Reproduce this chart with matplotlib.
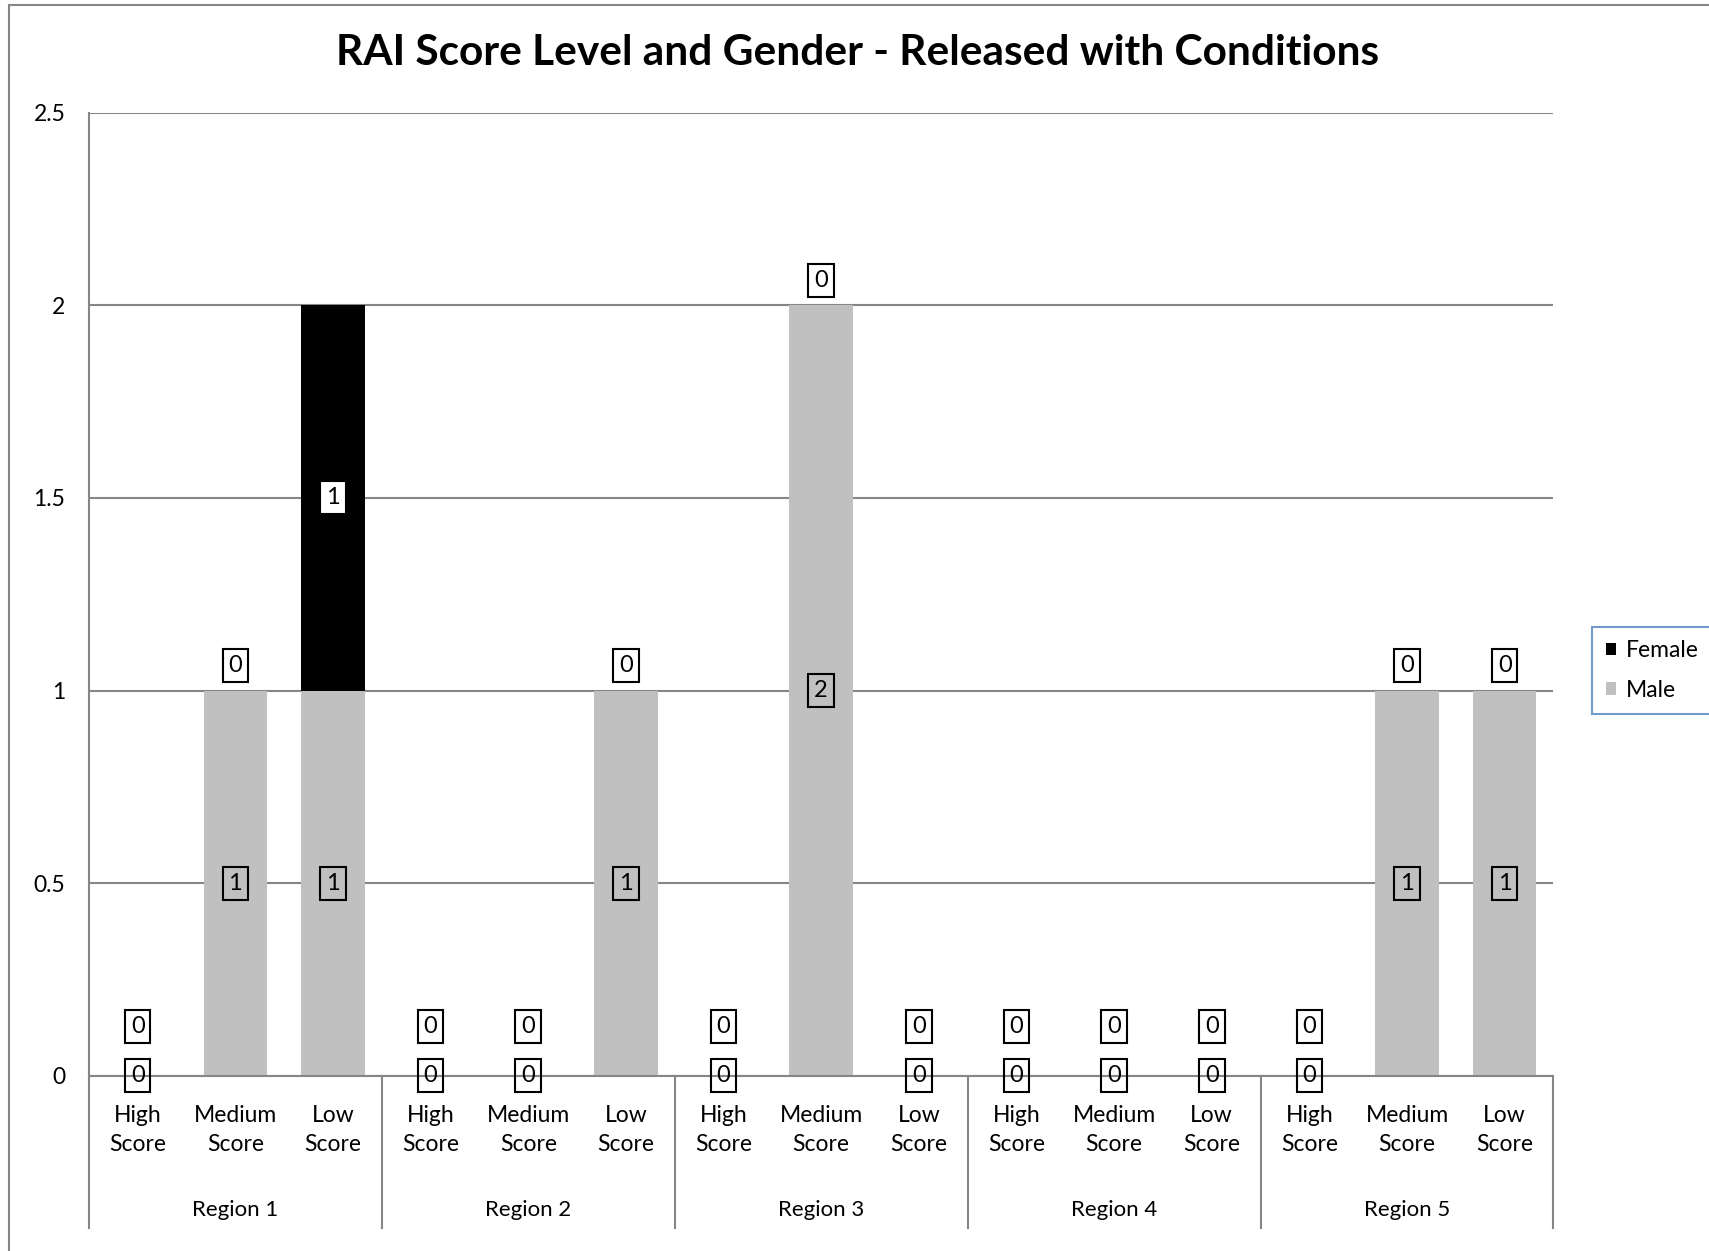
import matplotlib.pyplot as plt
import matplotlib.transforms as mtransforms
from matplotlib.patches import Rectangle
import numpy as np

regions = ['Region 1', 'Region 2', 'Region 3', 'Region 4', 'Region 5']
scores = ['High\nScore', 'Medium\nScore', 'Low\nScore']
male = [0, 1, 1, 0, 0, 1, 0, 2, 0, 0, 0, 0, 0, 1, 1]
female = [0, 0, 1, 0, 0, 0, 0, 0, 0, 0, 0, 0, 0, 0, 0]

plt.rcParams['font.family'] = ['Lato', 'DejaVu Sans']
grey = '#868686'

fig = plt.figure(figsize=(17.09, 12.51), dpi=100)
ax = fig.add_axes([0.052, 0.140, 0.857, 0.770])

x = np.arange(len(male))
w = 0.65
ax.bar(x, male, w, color='#C0C0C0', label='Male', zorder=2)
ax.bar(x, female, w, bottom=male, color='black', label='Female', zorder=2)

ax.set_xlim(-0.5, len(male) - 0.5)
ax.set_ylim(0, 2.5)
ax.set_yticks([0, 0.5, 1, 1.5, 2, 2.5])
ax.set_yticklabels(['0', '0.5', '1', '1.5', '2', '2.5'], fontsize=16.5)
ax.grid(axis='y', color=grey, linewidth=1.5, zorder=0)
ax.tick_params(axis='y', length=0, pad=17)
for s in ['top', 'right']:
    ax.spines[s].set_visible(False)
ax.spines['left'].set_color(grey)
ax.spines['left'].set_linewidth(1.5)
ax.spines['bottom'].set_color(grey)
ax.spines['bottom'].set_linewidth(1.5)

ax.set_xticks(x)
ax.set_xticklabels(scores * len(regions), fontsize=16.5, linespacing=1.45)
ax.tick_params(axis='x', length=0, pad=21)

# region labels and separators
trans = mtransforms.blended_transform_factory(ax.transData, ax.transAxes)
for i, r in enumerate(regions):
    ax.text(3 * i + 1, -0.139, r, transform=trans, ha='center', va='center',
            fontsize=16)
for b in np.arange(-0.5, len(male), 3):
    ax.plot([b, b], [0, -0.158], transform=trans, color=grey, lw=1.5,
            clip_on=False)

box = dict(boxstyle='square,pad=0.25', fc='none', ec='black', lw=1.5)
for i in x:
    ax.text(i, male[i] / 2, str(male[i]), ha='center', va='center',
            fontsize=17, bbox=box, zorder=4)
    top = male[i] + female[i]
    if female[i] > 0:
        ax.text(i, male[i] + female[i] / 2, str(female[i]), ha='center',
                va='center', fontsize=17, zorder=4,
                bbox=dict(box, fc='white'))
    else:
        off = 49 if top == 0 else 25
        ax.annotate(str(female[i]), (i, top), xytext=(0, off),
                    textcoords='offset pixels', ha='center', va='center',
                    fontsize=17, bbox=box, zorder=4)

h, l = ax.get_legend_handles_labels()
leg = fig.legend(h[::-1], l[::-1], loc='center left',
                 bbox_to_anchor=(0.925, 0.464), fontsize=16.5, frameon=True,
                 fancybox=False, handlelength=0.45, handleheight=0.45,
                 handletextpad=0.4, labelspacing=0.8, borderpad=0.6)
leg.get_frame().set_edgecolor('#4F81BD')
leg.get_frame().set_linewidth(1.5)

fig.text(0.502, 0.958, 'RAI Score Level and Gender - Released with Conditions',
         ha='center', va='center', fontsize=30.5, fontweight='bold',
         family=['Liberation Sans Narrow', 'Lato', 'DejaVu Sans'])

fig.patches.append(Rectangle((0.0055, -0.1), 1.2, 1.096, transform=fig.transFigure,
                             fill=False, ec=grey, lw=1.5))

fig.savefig('out.png', dpi=100)
